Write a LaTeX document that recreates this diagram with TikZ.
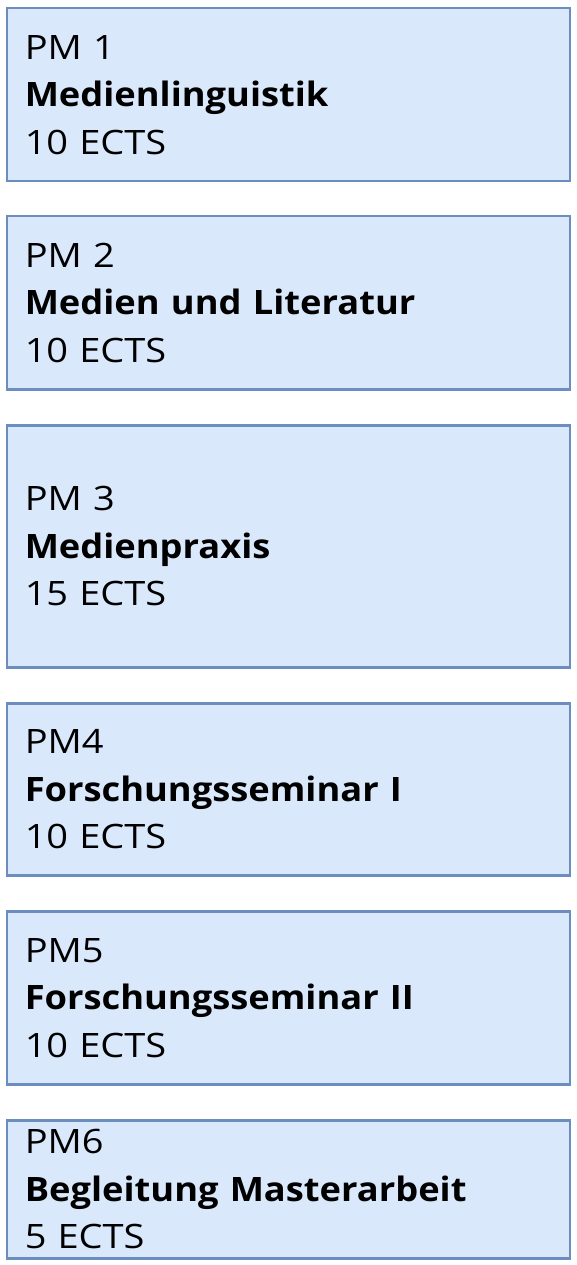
\documentclass[tikz,border=0pt]{standalone}
\usepackage{fontspec}
\setmainfont{Open Sans}[FakeStretch=1.13, BoldFeatures={FakeStretch=1.08}]
\definecolor{boxfill}{HTML}{DAE8FC}
\definecolor{boxdraw}{HTML}{6C8EBF}
\tikzset{
  modbox/.style={draw=boxdraw, fill=boxfill, line width=2.5pt, rectangle,
    anchor=north west, inner sep=0pt, minimum width=563pt, text width=527pt,
    align=left, font=\fontsize{33.6}{47.5}\selectfont}
}
\begin{document}
\begin{tikzpicture}[x=1pt,y=1pt]
\useasboundingbox (0,0) rectangle (576,-1265);
\node[modbox, minimum height=173pt] (pm1) at (5.5,-7) {PM 1\\\textbf{Medienlinguistik}\\10 ECTS};
\node[modbox, minimum height=173pt] (pm2) at (5.5,-215) {PM 2\\\textbf{Medien und Literatur}\\10 ECTS};
\node[modbox, minimum height=242pt] (pm3) at (5.5,-424) {PM 3\\\textbf{Medienpraxis}\\15 ECTS};
\node[modbox, minimum height=172pt] (pm4) at (5.5,-702) {PM4\\\textbf{Forschungsseminar I}\\10 ECTS};
\node[modbox, minimum height=173pt] (pm5) at (5.5,-910) {PM5\\\textbf{Forschungsseminar II}\\10 ECTS};
\node[modbox, minimum height=138pt] (pm6) at (5.5,-1119) {PM6\\\textbf{Begleitung Masterarbeit}\\5 ECTS};
\end{tikzpicture}
\end{document}
